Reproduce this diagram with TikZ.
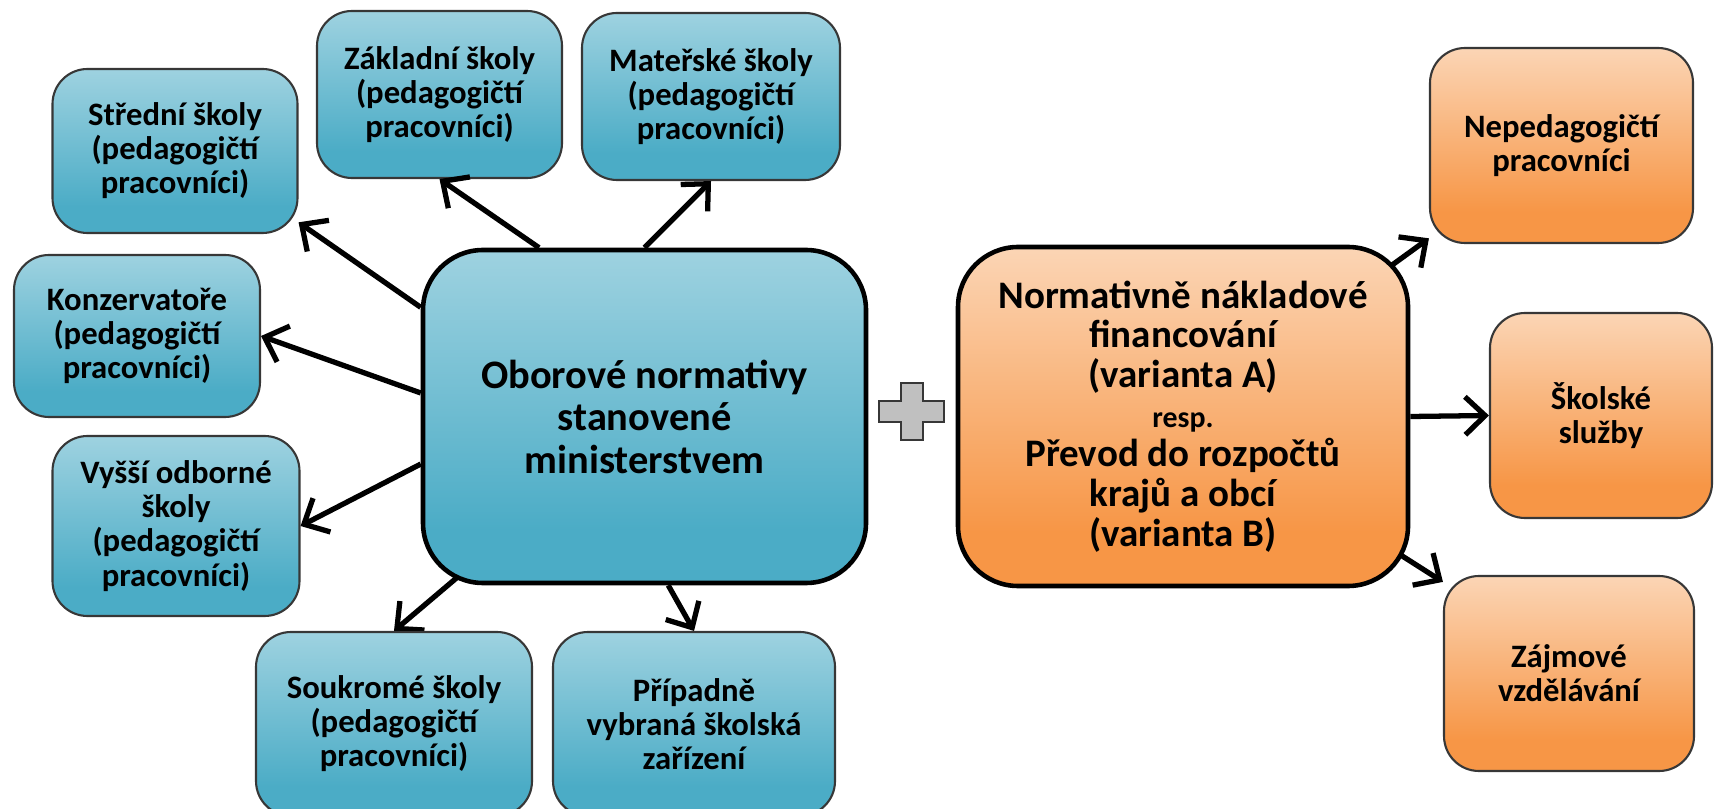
\documentclass[tikz,border=0pt]{standalone}
\usepackage{fontspec}
\setmainfont{Carlito}
\usetikzlibrary{arrows.meta,backgrounds}

\definecolor{blueT}{RGB}{158,210,224}
\definecolor{blueB}{RGB}{75,172,198}
\definecolor{orangeT}{RGB}{251,213,181}
\definecolor{orangeB}{RGB}{247,150,70}
\definecolor{plusgray}{RGB}{192,192,192}
\definecolor{rimgray}{RGB}{55,55,55}

\pgfdeclareverticalshading{blueshade}{100bp}{color(0bp)=(blueB); color(33bp)=(blueB); color(75bp)=(blueT); color(100bp)=(blueT)}
\pgfdeclareverticalshading{orangeshade}{100bp}{color(0bp)=(orangeB); color(33bp)=(orangeB); color(75bp)=(orangeT); color(100bp)=(orangeT)}

\tikzset{
  schoolbox/.style={rectangle, rounded corners=0.35cm, draw=rimgray, line width=0.6pt,
    shade, shading=blueshade, align=center, inner sep=0pt,
    font=\bfseries\fontsize{9.3}{9.7}\selectfont},
  otherbox/.style={schoolbox, shading=orangeshade},
  mainbox/.style={rectangle, rounded corners=0.6cm, draw=black, line width=1.3pt,
    shade, align=center, inner sep=0pt},
  link/.style={line width=1.5pt, -{Straight Barb[length=2mm,width=3.8mm]}},
}

\begin{document}
\begin{tikzpicture}
\useasboundingbox (0,0) rectangle (17.15,8.08);

% central node
\node (cen) at (6.445,3.915) [mainbox, shading=blueshade, minimum width=4.43cm, minimum height=3.33cm,
      font=\bfseries\fontsize{11.5}{12.1}\selectfont]
      {Oborové normativy\\stanovené\\ministerstvem};

% schools around it
\node (sts) at (1.75,6.57)  [schoolbox, minimum width=2.45cm, minimum height=1.64cm] {Střední školy\\(pedagogičtí\\pracovníci)};
\node (zs)  at (4.395,7.135) [schoolbox, minimum width=2.45cm, minimum height=1.67cm] {Základní školy\\(pedagogičtí\\pracovníci)};
\node (ms)  at (7.11,7.115) [schoolbox, minimum width=2.58cm, minimum height=1.67cm] {Mateřské školy\\(pedagogičtí\\pracovníci)};
\node (kon) at (1.37,4.72)  [schoolbox, minimum width=2.46cm, minimum height=1.62cm] {Konzervatoře\\(pedagogičtí\\pracovníci)};
\node (vos) at (1.76,2.82)  [schoolbox, minimum width=2.47cm, minimum height=1.80cm] {Vyšší odborné\\školy\\(pedagogičtí\\pracovníci)};
\node (sou) at (3.94,0.84)  [schoolbox, minimum width=2.76cm, minimum height=1.84cm] {Soukromé školy\\(pedagogičtí\\pracovníci)};
\node (zar) at (6.94,0.84)  [schoolbox, minimum width=2.82cm, minimum height=1.84cm] {Případně\\vybraná školská\\zařízení};

% plus
\draw [draw=rimgray, fill=plusgray, line width=0.8pt]
      (9.01,4.25) -- (9.23,4.25) -- (9.23,4.07) -- (9.44,4.07) -- (9.44,3.86) -- (9.23,3.86)
   -- (9.23,3.68) -- (9.01,3.68) -- (9.01,3.86) -- (8.79,3.86) -- (8.79,4.07) -- (9.01,4.07) -- cycle;

% financing node
\node (fin) at (11.83,3.915) [mainbox, shading=orangeshade, minimum width=4.50cm, minimum height=3.39cm,
      font=\bfseries\fontsize{11.1}{11.3}\selectfont]
      {Normativně nákladové\\financování\\(varianta A)\\{\fontsize{8.5}{11.3}\selectfont resp.}\\Převod do rozpočtů\\krajů a obcí\\(varianta B)};

\node (nep) at (15.615,6.625) [otherbox, minimum width=2.63cm, minimum height=1.95cm] {Nepedagogičtí\\pracovníci};
\node (sls) at (16.01,3.925)  [otherbox, minimum width=2.22cm, minimum height=2.05cm] {Školské\\služby};
\node (zv)  at (15.69,1.345)  [otherbox, minimum width=2.50cm, minimum height=1.95cm] {Zájmové\\vzdělávání};

\draw [link] (cen.154.5) -- (sts.330);
\draw [link] (cen.174.6) -- (kon.east);
\draw [link] (cen.192.8) -- (vos.east);
\draw [link] (cen.122.2) -- (zs.south);
\draw [link] (cen.north) -- (ms.south);
\draw [link] (cen.278.6) -- (zar.north);
\draw [link] (fin.east)  -- (sls.west);

% these leave the boxes at a rounded corner: start inside, behind the box
\begin{scope}[on background layer]
\draw [link] ([shift={(-1.19,-1.03)}]cen.center) -- (sou.north);
\draw [link] (fin.center) -- (nep.215.6);
\draw [link] (fin.center) -- (zv.144.8);
\end{scope}
\end{tikzpicture}
\end{document}
